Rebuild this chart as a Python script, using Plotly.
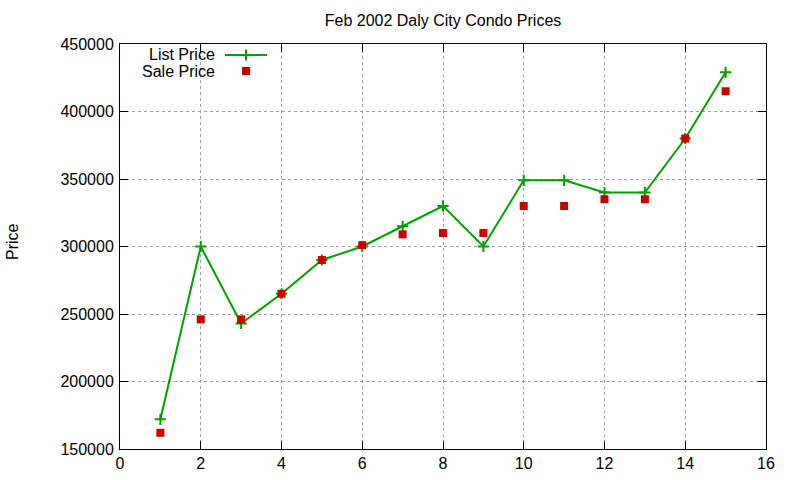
import plotly.graph_objects as go

# ---- data ----
months = [1, 2, 3, 4, 5, 6, 7, 8, 9, 10, 11, 12, 13, 14, 15]
list_price = [172000, 300000, 243000, 265000, 290000, 300000, 315000, 330000,
              300000, 349000, 349000, 340000, 340000, 380000, 429000]
sale_price = [162000, 246000, 246000, 265000, 290000, 301000, 309000, 310000,
              310000, 330000, 330000, 335000, 335000, 380000, 415000]
x_ticks = [0, 2, 4, 6, 8, 10, 12, 14, 16]
y_ticks = [150000, 200000, 250000, 300000, 350000, 400000, 450000]
title_text = "Feb 2002 Daly City Condo Prices"
legend_names = ["List Price", "Sale Price"]

GREEN = "#00a000"
RED = "#cc0000"
FONT = "Liberation Sans, Arial, sans-serif"

FW, FH = 800, 480
L, R, T, B = 120, 34, 44, 31
W, H = FW - L - R, FH - T - B

def px(xp):  # screen pixel x -> paper
    return (xp - L) / W
def py(yp):  # screen pixel y -> paper
    return (T + H - yp) / H

fig = go.Figure()
fig.add_trace(go.Scatter(
    x=months, y=list_price, mode="lines+markers", name=legend_names[0],
    line=dict(color=GREEN, width=2),
    marker=dict(symbol="cross-thin", size=8, line=dict(color=GREEN, width=2)),
    showlegend=False, cliponaxis=False))
fig.add_trace(go.Scatter(
    x=months, y=sale_price, mode="markers", name=legend_names[1],
    marker=dict(symbol="square", size=8, color=RED, line=dict(width=0)),
    showlegend=False, cliponaxis=False))

# custom gnuplot-style key (text right-aligned, sample to the right)
key_rows = [55, 71]
fig.add_trace(go.Scatter(
    x=[px(225), px(267)], y=[py(key_rows[0])] * 2, mode="lines",
    line=dict(color=GREEN, width=2), xaxis="x2", yaxis="y2",
    showlegend=False, hoverinfo="skip"))
fig.add_trace(go.Scatter(
    x=[px(246)], y=[py(key_rows[0])], mode="markers",
    marker=dict(symbol="cross-thin", size=8, line=dict(color=GREEN, width=2)),
    xaxis="x2", yaxis="y2", showlegend=False, hoverinfo="skip"))
fig.add_trace(go.Scatter(
    x=[px(246)], y=[py(key_rows[1])], mode="markers",
    marker=dict(symbol="square", size=8, color=RED),
    xaxis="x2", yaxis="y2", showlegend=False, hoverinfo="skip"))
for name, row in zip(legend_names, key_rows):
    fig.add_annotation(x=px(217), y=py(row), xref="paper", yref="paper",
                       text=name, showarrow=False, xanchor="right",
                       yanchor="middle", font=dict(size=16, color="black", family=FONT))

fig.add_annotation(x=px(12), y=py(242), xref="paper", yref="paper",
                   text="Price", textangle=-90, showarrow=False,
                   xanchor="center", yanchor="middle",
                   font=dict(size=16, color="black", family=FONT))

axis_common = dict(
    showline=True, linecolor="black", linewidth=1, mirror="ticks",
    ticks="inside", ticklen=8, tickcolor="black", tickwidth=1,
    showgrid=True, gridcolor="#a0a0a0", griddash="dot", gridwidth=1,
    zeroline=False, automargin=False,
    tickfont=dict(size=16, color="black", family=FONT),
)
fig.update_layout(
    width=FW, height=FH,
    margin=dict(l=L, r=R, t=T, b=B, autoexpand=False),
    paper_bgcolor="white", plot_bgcolor="white",
    font=dict(family=FONT, size=16, color="black"),
    title=dict(text=title_text, x=(L + W / 2) / FW, xanchor="center",
               y=1 - 20 / FH, yanchor="middle", yref="container",
               font=dict(size=16, color="black", family=FONT)),
    xaxis=dict(range=[0, 16], tickvals=x_ticks, **axis_common),
    yaxis=dict(range=[150000, 450000], tickvals=y_ticks, tickformat="d",
               ticklabelstandoff=2, **axis_common),
    xaxis2=dict(range=[0, 1], overlaying="x", visible=False, fixedrange=True),
    yaxis2=dict(range=[0, 1], overlaying="y", visible=False, fixedrange=True),
    showlegend=False,
)

fig.write_html(
    "out.html",
    config={"displayModeBar": False},
    post_script="document.body.style.margin='0';document.body.style.overflow='hidden';",
)
